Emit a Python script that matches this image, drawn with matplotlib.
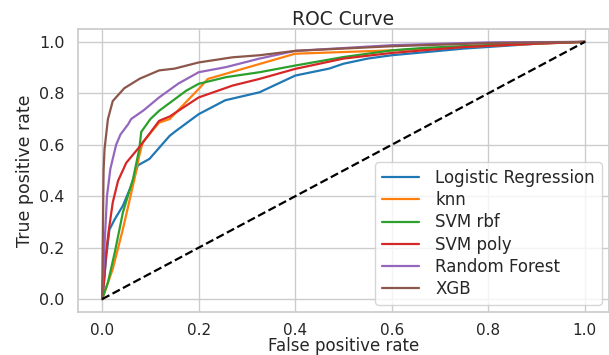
import matplotlib
matplotlib.use("Agg")
import matplotlib.pyplot as plt
import seaborn as sns

# ROC points (fpr, tpr)
lr_fpr = [0.0, 0.003, 0.008, 0.015, 0.026, 0.043, 0.06, 0.074, 0.098, 0.14, 0.153, 0.2, 0.255, 0.326, 0.4, 0.47, 0.5, 0.55, 0.6, 0.75, 0.91, 1.0]
lr_tpr = [0.0, 0.05, 0.155, 0.27, 0.31, 0.363, 0.44, 0.52, 0.545, 0.635, 0.654, 0.719, 0.773, 0.804, 0.869, 0.896, 0.915, 0.935, 0.948, 0.974, 0.994, 1.0]

knn_fpr = [0.0, 0.022, 0.043, 0.067, 0.077, 0.084, 0.118, 0.14, 0.2, 0.219, 0.4, 0.6, 0.8, 1.0]
knn_tpr = [0.0, 0.117, 0.272, 0.467, 0.558, 0.61, 0.686, 0.7, 0.817, 0.856, 0.954, 0.967, 0.985, 1.0]

rbf_fpr = [0.0, 0.012, 0.026, 0.043, 0.064, 0.077, 0.081, 0.1, 0.118, 0.174, 0.2, 0.257, 0.326, 0.4, 0.5, 0.6, 0.67, 0.83, 1.0]
rbf_tpr = [0.0, 0.065, 0.18, 0.337, 0.467, 0.584, 0.65, 0.7, 0.732, 0.81, 0.837, 0.863, 0.882, 0.908, 0.941, 0.967, 0.977, 0.99, 1.0]

poly_fpr = [0.0, 0.005, 0.008, 0.014, 0.022, 0.033, 0.05, 0.081, 0.118, 0.14, 0.2, 0.27, 0.326, 0.4, 0.5, 0.6, 0.75, 0.91, 1.0]
poly_tpr = [0.0, 0.09, 0.18, 0.27, 0.376, 0.46, 0.53, 0.6, 0.693, 0.71, 0.784, 0.83, 0.856, 0.895, 0.935, 0.957, 0.98, 0.994, 1.0]

rf_fpr = [0.0, 0.001, 0.005, 0.01, 0.017, 0.029, 0.038, 0.054, 0.06, 0.086, 0.118, 0.158, 0.2, 0.257, 0.326, 0.4, 0.6, 0.8, 1.0]
rf_tpr = [0.0, 0.05, 0.21, 0.4, 0.506, 0.6, 0.64, 0.68, 0.7, 0.734, 0.784, 0.838, 0.882, 0.902, 0.935, 0.965, 0.987, 0.998, 1.0]

xgb_fpr = [0.0, 0.003, 0.005, 0.012, 0.022, 0.046, 0.078, 0.118, 0.15, 0.2, 0.27, 0.326, 0.4, 0.6, 0.8, 1.0]
xgb_tpr = [0.0, 0.5, 0.584, 0.7, 0.77, 0.82, 0.857, 0.889, 0.896, 0.92, 0.94, 0.948, 0.965, 0.983, 0.995, 1.0]

curves = [
    ("Logistic Regression", lr_fpr, lr_tpr),
    ("knn", knn_fpr, knn_tpr),
    ("SVM rbf", rbf_fpr, rbf_tpr),
    ("SVM poly", poly_fpr, poly_tpr),
    ("Random Forest", rf_fpr, rf_tpr),
    ("XGB", xgb_fpr, xgb_tpr),
]

sns.set_style("whitegrid")
sns.set_context("notebook")
plt.rcParams['font.family'] = ['DejaVu Sans']

fig = plt.figure(figsize=(6.09, 3.55), dpi=100)
ax = fig.add_axes([78 / 609, 1 - 312 / 355, 531 / 609, 283 / 355])

for name, fpr, tpr in curves:
    ax.plot(fpr, tpr, label=name, lw=1.6)
ax.plot([0, 1], [0, 1], 'k--', lw=1.6)

ax.tick_params(axis='y', labelsize=11.5)
ax.tick_params(axis='x', labelsize=11, pad=2)
ax.set_xlabel('False positive rate', fontsize=12, va='bottom')
ax.xaxis.set_label_coords(0.5, -0.153)
ax.set_ylabel('True positive rate', fontsize=12.5, labelpad=4)
ax.set_title('ROC Curve', fontsize=13.5, pad=3)
ax.legend(loc='lower right', fontsize=12, labelspacing=0.25,
          handlelength=2.2, handletextpad=1.0, borderaxespad=0.45)

fig.savefig("out.png", dpi=100)
